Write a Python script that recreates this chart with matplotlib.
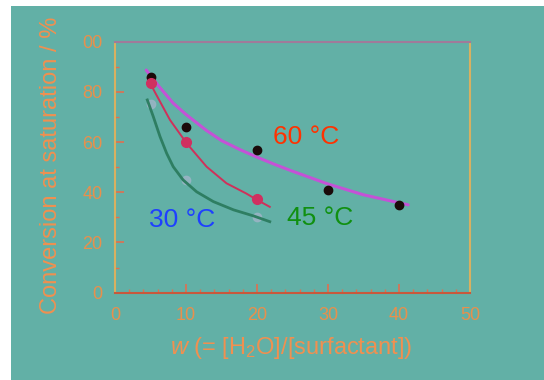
import numpy as np
import matplotlib
matplotlib.use('Agg')
import matplotlib.pyplot as plt
from matplotlib.patches import Rectangle
from matplotlib.ticker import MultipleLocator

plt.rcParams['font.family'] = ['Liberation Sans', 'DejaVu Sans']
plt.rcParams['mathtext.fontset'] = 'custom'
plt.rcParams['mathtext.rm'] = 'Liberation Sans'
plt.rcParams['mathtext.it'] = 'Liberation Sans:italic'

# измеренные точки
w_pts = [5, 10, 20, 30, 40]
conv_60 = [86, 66, 56.8, 41, 35]
w_pts_45 = [5, 10, 20]
conv_45 = [83.5, 60, 37.3]
w_pts_30 = [5, 10, 20]
conv_30 = [75.2, 45, 30.3]

# аппроксимирующие кривые
fit_w_60 = [4.4, 5, 6.1, 8.2, 10, 12.9, 15, 17.6, 20, 22.5, 25, 30, 35, 41.3]
fit_c_60 = [88.7, 86.5, 82.5, 75.5, 71, 64.6, 60.6, 57.0, 54.0, 51.1, 48.4, 43.3, 39.0, 35]
fit_w_45 = [4.6, 5.6, 7.75, 10.1, 12.9, 15.7, 18.5, 20, 21.8]
fit_c_45 = [85.5, 80, 68.8, 59.5, 50.2, 43.6, 39.5, 37.0, 34.2]
fit_w_30 = [4.55, 5.4, 6.34, 7.28, 8.2, 9.6, 11.5, 13.85, 16.7, 19.5, 21.8]
fit_c_30 = [76.8, 70.1, 62.2, 55.5, 50.2, 44.9, 40.2, 36.3, 33, 30.6, 28.3]

y_ticks = [0, 20, 40, 60, 80, 100]
y_tick_labels = ['0', '20', '40', '60', '80', '00']
x_ticks = [0, 10, 20, 30, 40, 50]

teal = '#62b0a6'
orange = '#e8904c'

fig = plt.figure(figsize=(5.44, 3.8), dpi=100)
fig.patch.set_facecolor('white')
fig.patches.append(Rectangle((11 / 544, 0), 1, 374 / 380, transform=fig.transFigure,
                             facecolor=teal, edgecolor='none', zorder=-10))

ax = fig.add_axes([115 / 544, 1 - 292.7 / 380, 355 / 544, 251 / 380])
ax.set_facecolor(teal)

ax.plot(fit_w_60, fit_c_60, color='#c452d6', lw=2.2, solid_capstyle='round',
        solid_joinstyle='round')
ax.plot(fit_w_45, fit_c_45, color='#d0305a', lw=1.4, solid_joinstyle='round')
ax.plot(fit_w_30, fit_c_30, color='#2e7e62', lw=2.0, solid_joinstyle='round')

ax.plot(w_pts, conv_60, 'o', color='#1a0a0a', ms=6, zorder=5)
ax.plot(w_pts_45, conv_45, 'o', color='#d03060', ms=7, zorder=5)
ax.plot(w_pts_30, conv_30, 'o', color='#98b4c4', ms=6, zorder=1, alpha=0.9)

ax.text(22.2, 62.2, '60 °C', color='#ff3200', fontsize=19, va='center', ha='left')
ax.text(24.2, 29.8, '45 °C', color='#109010', fontsize=19, va='center', ha='left')
ax.text(4.8, 29.0, '30 °C', color='#1e40ff', fontsize=19, va='center', ha='left')

ax.set_xlim(0, 50)
ax.set_ylim(0, 100)
ax.set_xticks(x_ticks)
ax.set_yticks(y_ticks)
ax.set_yticklabels(y_tick_labels)
ax.xaxis.set_minor_locator(MultipleLocator(2))
ax.yaxis.set_minor_locator(MultipleLocator(10))
ax.tick_params(which='both', direction='in', colors='#e07050', labelcolor=orange,
               labelsize=13, top=False, right=False)
ax.tick_params(which='major', length=6.5, width=1.2)
ax.tick_params(which='minor', length=3, width=1.0)
ax.tick_params(axis='x', pad=10)
ax.tick_params(axis='y', pad=9)

ax.spines['top'].set_color('#a07a9a')
ax.spines['right'].set_color('#d8b060')
ax.spines['left'].set_color('#d8b060')
ax.spines['bottom'].set_color('#c8583c')
for s in ax.spines.values():
    s.set_linewidth(1.5)

fig.text(51 / 544, 1 - 165 / 380, 'Conversion at saturation / %', rotation=90,
         color='#f09050', fontsize=17, ha='center', va='center')
fig.text(291.5 / 544, 1 - 348 / 380, r'$\mathit{w}$ (= [H$_2$O]/[surfactant])',
         color='#f09050', fontsize=17, ha='center', va='center')

fig.savefig('out.png', dpi=100, facecolor=fig.get_facecolor())
